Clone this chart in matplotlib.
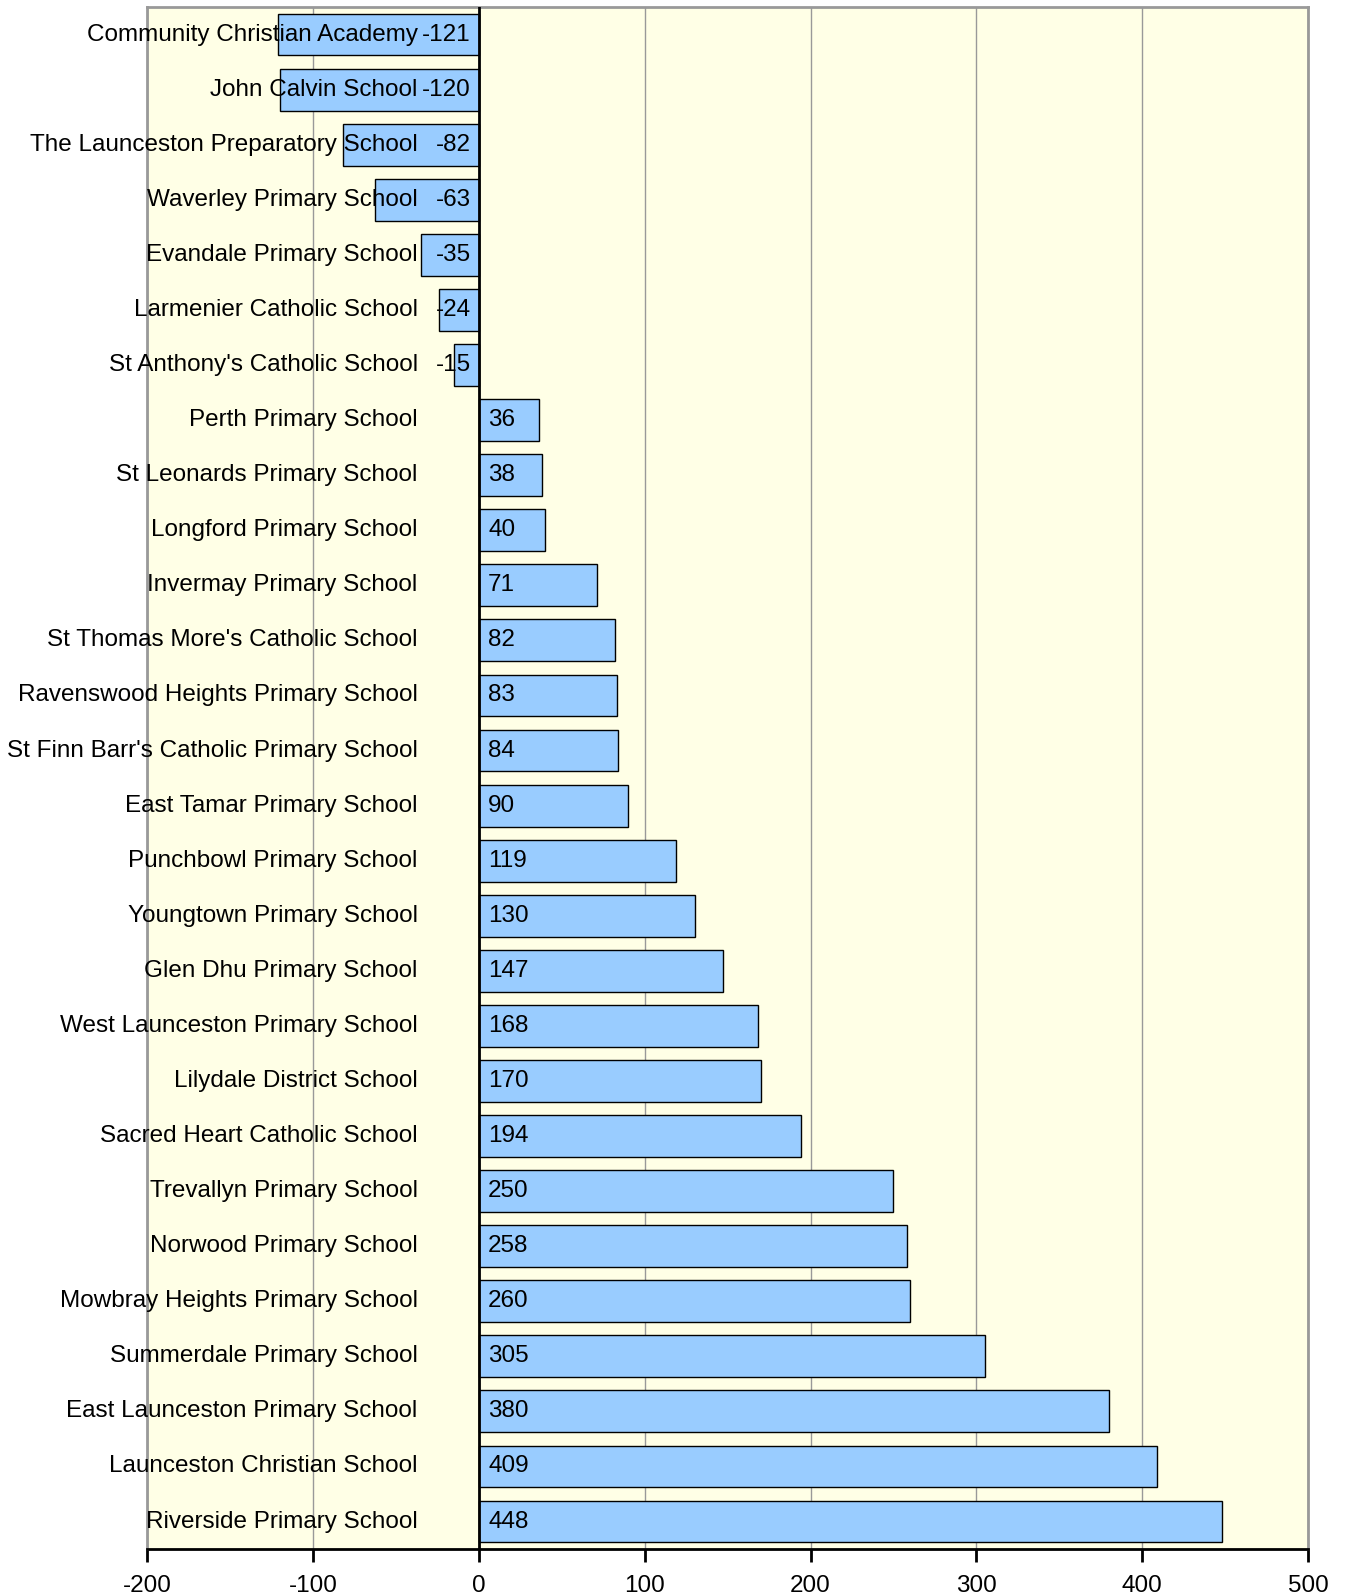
import matplotlib.pyplot as plt

plt.rcParams['font.family'] = ['Liberation Sans', 'DejaVu Sans']

# data, top to bottom
schools = [
    "Community Christian Academy",
    "John Calvin School",
    "The Launceston Preparatory School",
    "Waverley Primary School",
    "Evandale Primary School",
    "Larmenier Catholic School",
    "St Anthony's Catholic School",
    "Perth Primary School",
    "St Leonards Primary School",
    "Longford Primary School",
    "Invermay Primary School",
    "St Thomas More's Catholic School",
    "Ravenswood Heights Primary School",
    "St Finn Barr's Catholic Primary School",
    "East Tamar Primary School",
    "Punchbowl Primary School",
    "Youngtown Primary School",
    "Glen Dhu Primary School",
    "West Launceston Primary School",
    "Lilydale District School",
    "Sacred Heart Catholic School",
    "Trevallyn Primary School",
    "Norwood Primary School",
    "Mowbray Heights Primary School",
    "Summerdale Primary School",
    "East Launceston Primary School",
    "Launceston Christian School",
    "Riverside Primary School",
]
values = [-121, -120, -82, -63, -35, -24, -15, 36, 38, 40, 71, 82, 83, 84, 90,
          119, 130, 147, 168, 170, 194, 250, 258, 260, 305, 380, 409, 448]
xticks = [-200, -100, 0, 100, 200, 300, 400, 500]

fig = plt.figure(figsize=(13.47, 15.95), dpi=100)
ax = fig.add_axes([0.1095, 0.0288, 0.8615, 0.9668])
ax.set_facecolor('#FFFFE6')

pos = list(range(len(schools)))
ax.barh(pos, values, height=0.76, color='#99CCFF', edgecolor='black',
        linewidth=1, zorder=2)

fs = 17.5
for i, (name, v) in enumerate(zip(schools, values)):
    ax.text(-37, i, name, ha='right', va='center', fontsize=fs, zorder=4)
    if v < 0:
        ax.text(-5, i, str(v), ha='right', va='center', fontsize=fs, zorder=4)
    else:
        ax.text(5.5, i, str(v), ha='left', va='center', fontsize=fs, zorder=4)

ax.axvline(0, color='black', linewidth=2, zorder=3)

ax.set_xlim(-200, 500)
ax.set_ylim(27.5, -0.5)
ax.set_xticks(xticks)
ax.set_xticklabels([str(t) for t in xticks], fontsize=fs)
ax.set_yticks([])
ax.grid(axis='x', color='#999999', linewidth=1, zorder=1)
ax.set_axisbelow(True)

for s in ['left', 'right', 'top']:
    ax.spines[s].set_color('#999999')
    ax.spines[s].set_linewidth(2)
ax.spines['bottom'].set_color('black')
ax.spines['bottom'].set_linewidth(2)
ax.tick_params(axis='x', direction='out', length=9, width=2, pad=10)

fig.savefig("out.png", dpi=100)
